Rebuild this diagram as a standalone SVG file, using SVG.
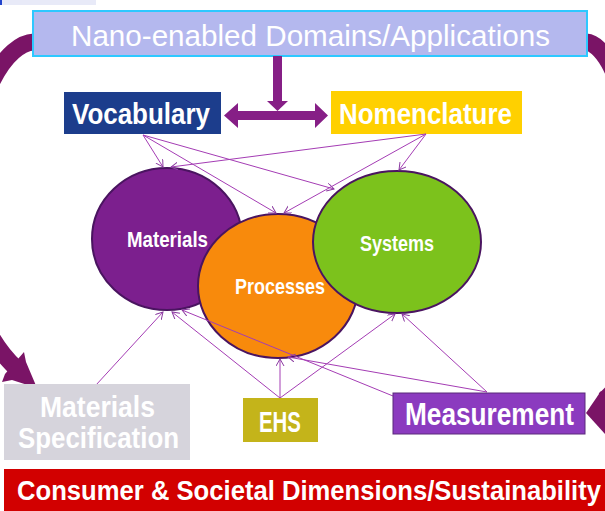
<svg xmlns="http://www.w3.org/2000/svg" width="605" height="511" viewBox="0 0 605 511">
  <defs>
    <style>
      .lbl { font-family: "Liberation Sans", Arial, sans-serif; font-weight: bold; fill: #ffffff; }
      .title { font-family: "Liberation Sans", Arial, sans-serif; font-weight: normal; fill: #ffffff; }
      .circ { stroke: #4a1460; stroke-width: 2; }
      .link { stroke: #a43cb4; stroke-width: 1; fill: none; marker-end: url(#tip); }
      .band { fill: none; stroke: #7a1466; stroke-width: 17; }
      .bold-arrow { fill: #861f86; }
    </style>
    <marker id="tip" markerUnits="userSpaceOnUse" markerWidth="10" markerHeight="10" refX="7" refY="4" orient="auto">
      <path d="M0,0 L7,4 L0,8" fill="none" stroke="#8a3aa0" stroke-width="1"/>
    </marker>
  </defs>

  <!-- faint strip along the top edge -->
  <rect x="0" y="0" width="96" height="5" fill="#e8eaf8"/>
  <rect x="0" y="0" width="2" height="5" fill="#2244cc"/>

  <!-- big curved arrows running round the sides -->
  <g id="side-arrows">
    <path class="band" d="M34 42 C 8 43, -28 90, -34 200 C -38 290, -14 340, 16 368"/>
    <polygon fill="#7a1466" points="5,374 24,352 26,362 37,388 12,380 2,382"/>
    <path class="band" d="M586 42 C 600 43, 620 70, 625 120 L 625 360 C 624 380, 614 392, 604 400"/>
    <polygon fill="#7a1466" points="586,413 601,391 605,396 612,440 605,434"/>
  </g>

  <!-- heading box -->
  <g id="domains">
    <rect x="33" y="11" width="554" height="45" fill="#b4b8ee" stroke="#2ec8ff" stroke-width="2"/>
    <text class="title" x="71" y="46" font-size="30" textLength="479" lengthAdjust="spacingAndGlyphs">Nano-enabled Domains/Applications</text>
  </g>

  <!-- stem and double-headed arrow -->
  <g id="vocab-nomen-link">
    <rect class="bold-arrow" x="273" y="56" width="9" height="46"/>
    <polygon class="bold-arrow" points="267,101 288,101 277.5,111"/>
    <polygon class="bold-arrow" points="224,115.5 238,103 238,111 315,111 315,103 328,115.5 315,128 315,120 238,120 238,128"/>
  </g>

  <g id="vocabulary">
    <rect x="64" y="92" width="157" height="42" fill="#1c3d8c"/>
    <text class="lbl" x="72" y="124" font-size="30" textLength="138" lengthAdjust="spacingAndGlyphs">Vocabulary</text>
  </g>

  <g id="nomenclature">
    <rect x="331" y="91" width="191" height="43" fill="#ffd000"/>
    <text class="lbl" x="339" y="124" font-size="30" textLength="173" lengthAdjust="spacingAndGlyphs">Nomenclature</text>
  </g>

  <!-- overlapping circles -->
  <g id="materials">
    <ellipse class="circ" cx="167" cy="239" rx="75" ry="71" fill="#7c1f8e"/>
    <text class="lbl" x="127" y="247" font-size="22" textLength="81" lengthAdjust="spacingAndGlyphs">Materials</text>
  </g>

  <g id="processes">
    <ellipse class="circ" cx="278" cy="286" rx="80" ry="72" fill="#f88a0c"/>
    <text class="lbl" x="235" y="294" font-size="22" textLength="90" lengthAdjust="spacingAndGlyphs">Processes</text>
  </g>

  <g id="systems">
    <ellipse class="circ" cx="397" cy="242" rx="84" ry="71" fill="#7cc21c"/>
    <text class="lbl" x="360" y="251" font-size="22" textLength="74" lengthAdjust="spacingAndGlyphs">Systems</text>
  </g>

  <!-- thin connectors -->
  <g id="connectors">
    <line class="link" x1="143" y1="135" x2="163" y2="167"/>
    <line class="link" x1="143" y1="135" x2="276" y2="213"/>
    <line class="link" x1="143" y1="135" x2="334" y2="189"/>
    <line class="link" x1="426" y1="134" x2="171" y2="167"/>
    <line class="link" x1="426" y1="134" x2="284" y2="213"/>
    <line class="link" x1="426" y1="134" x2="399" y2="170"/>
    <line class="link" x1="96" y1="385" x2="163" y2="312"/>
    <line class="link" x1="280" y1="398" x2="172" y2="312"/>
    <line class="link" x1="280" y1="398" x2="280" y2="359"/>
    <line class="link" x1="280" y1="398" x2="395" y2="314"/>
    <line class="link" x1="393" y1="396" x2="182" y2="310"/>
    <line class="link" x1="487" y1="392" x2="288" y2="357"/>
    <line class="link" x1="487" y1="392" x2="402" y2="314"/>
  </g>

  <g id="materials-specification">
    <rect x="4" y="384" width="186" height="76" fill="#d6d4dc"/>
    <text class="lbl" x="40" y="417" font-size="29" textLength="115" lengthAdjust="spacingAndGlyphs">Materials</text>
    <text class="lbl" x="18" y="448" font-size="29" textLength="161" lengthAdjust="spacingAndGlyphs">Specification</text>
  </g>

  <g id="ehs">
    <rect x="243" y="398" width="75" height="44" fill="#c4b41a"/>
    <text class="lbl" x="259" y="432" font-size="30" textLength="42" lengthAdjust="spacingAndGlyphs">EHS</text>
  </g>

  <g id="measurement">
    <rect x="393" y="393" width="192" height="41" fill="#8b3bbf" stroke="#5a2a7a" stroke-width="1"/>
    <text class="lbl" x="405" y="425" font-size="31" textLength="169" lengthAdjust="spacingAndGlyphs">Measurement</text>
  </g>

  <g id="consumer-societal">
    <rect x="4" y="469" width="601" height="42" fill="#d20000"/>
    <text class="lbl" x="17" y="500" font-size="28" textLength="584" lengthAdjust="spacingAndGlyphs">Consumer &amp; Societal Dimensions/Sustainability</text>
  </g>
</svg>
